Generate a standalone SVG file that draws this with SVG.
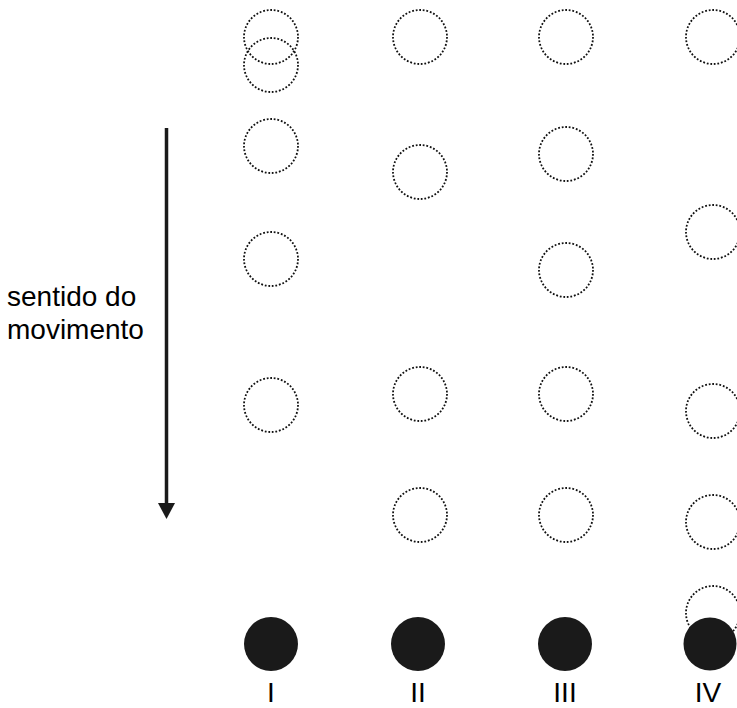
<svg xmlns="http://www.w3.org/2000/svg" width="737" height="708" viewBox="0 0 737 708">
<style>
.d{fill:none;stroke:#111;stroke-width:1.8;stroke-dasharray:1.8 1.8}
.f{fill:#1a1a1a}
.t{font-family:"Liberation Sans",Arial,sans-serif;fill:#000}
.lab{font-size:28px;text-anchor:middle}
.cap{font-size:28px}
</style>
<rect width="737" height="708" fill="#fff"/>
<g id="colI">
<circle class="d" cx="271" cy="37" r="27"/>
<circle class="d" cx="271" cy="65" r="27"/>
<circle class="d" cx="271" cy="146" r="27"/>
<circle class="d" cx="271" cy="259" r="27"/>
<circle class="d" cx="271" cy="405" r="27"/>
<circle class="f" cx="271" cy="644" r="27"/>
<text class="t lab" x="271" y="702">I</text>
</g>
<g id="colII">
<circle class="d" cx="420" cy="37" r="27"/>
<circle class="d" cx="420" cy="172" r="27"/>
<circle class="d" cx="420" cy="394" r="27"/>
<circle class="d" cx="420" cy="515" r="27"/>
<circle class="f" cx="418" cy="644" r="27"/>
<text class="t lab" x="418" y="702">II</text>
</g>
<g id="colIII">
<circle class="d" cx="566" cy="37" r="27"/>
<circle class="d" cx="566" cy="154" r="27"/>
<circle class="d" cx="566" cy="270" r="27"/>
<circle class="d" cx="566" cy="394" r="27"/>
<circle class="d" cx="566" cy="515" r="27"/>
<circle class="f" cx="565" cy="644" r="27"/>
<text class="t lab" x="565" y="702">III</text>
</g>
<g id="colIV">
<circle class="d" cx="713" cy="37" r="27"/>
<circle class="d" cx="713" cy="232" r="27"/>
<circle class="d" cx="713" cy="411" r="27"/>
<circle class="d" cx="713" cy="522" r="27"/>
<circle class="d" cx="713" cy="613" r="27"/>
<circle class="f" cx="710" cy="644" r="26.5"/>
<text class="t lab" x="708" y="702">IV</text>
</g>
<g id="connectors">
<line x1="166.5" y1="128" x2="166.5" y2="504" stroke="#1a1a1a" stroke-width="3.5"/>
<polygon points="158,503 175,503 166.5,519" fill="#1a1a1a"/>
</g>
<g id="caption">
<text class="t cap" x="7" y="306">sentido do</text>
<text class="t cap" x="7" y="339">movimento</text>
</g>
</svg>
